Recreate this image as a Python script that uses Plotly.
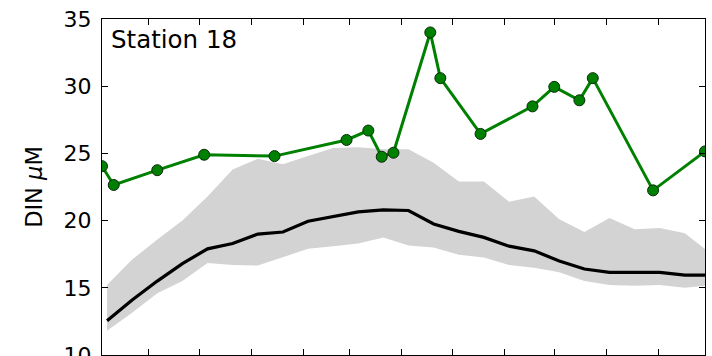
import plotly.graph_objects as go

# Climatology (15-day composites): mean and spread of DIN
clim_dates = [
    "2013-10-07", "2013-10-22", "2013-11-06", "2013-11-21", "2013-12-06",
    "2013-12-21", "2014-01-05", "2014-01-20", "2014-02-04", "2014-02-19",
    "2014-03-06", "2014-03-21", "2014-04-05", "2014-04-20", "2014-05-05",
    "2014-05-20", "2014-06-04", "2014-06-19", "2014-07-04", "2014-07-19",
    "2014-08-03", "2014-08-18", "2014-09-02", "2014-09-17", "2014-10-02",
]
clim_mean = [
    12.55, 14.1, 15.5, 16.8, 17.9, 18.3, 19.0, 19.15, 19.95, 20.3,
    20.65, 20.8, 20.75, 19.75, 19.2, 18.75, 18.1, 17.75, 17.0, 16.4,
    16.15, 16.15, 16.15, 15.95, 15.95,
]
clim_upper = [
    15.2, 17.1, 18.6, 20.0, 21.8, 23.8, 24.6, 24.2, 24.8, 25.4,
    25.45, 25.3, 25.3, 24.3, 22.9, 22.9, 21.4, 21.8, 20.1, 19.15,
    20.2, 19.35, 19.45, 19.05, 17.6,
]
clim_lower = [
    11.8, 13.15, 14.6, 15.5, 16.85, 16.7, 16.65, 17.3, 17.9, 18.1,
    18.3, 18.75, 18.15, 18.0, 17.45, 17.25, 16.7, 16.5, 16.15, 15.5,
    15.2, 15.15, 15.2, 15.0, 15.2,
]

# Station 18 samples
obs_dates = [
    "2013-10-04", "2013-10-11", "2013-11-06", "2013-12-04", "2014-01-15",
    "2014-02-27", "2014-03-12", "2014-03-20", "2014-03-27", "2014-04-18",
    "2014-04-24", "2014-05-18", "2014-06-18", "2014-07-01", "2014-07-16",
    "2014-07-24", "2014-08-29", "2014-09-29",
]
obs_din = [
    24.05, 22.65, 23.75, 24.9, 24.8, 26.0, 26.7, 24.75, 25.05, 34.0,
    30.6, 26.45, 28.5, 29.95, 28.95, 30.6, 22.25, 25.15,
]

y_ticks = [10, 15, 20, 25, 30, 35]
station_label = "Station 18"
y_label = "DIN <i>μ</i>M"

FONT = "DejaVu Sans"

fig = go.Figure()

fig.add_trace(go.Scatter(
    x=clim_dates, y=clim_lower, mode="lines",
    line=dict(width=0, color="#d3d3d3"), showlegend=False, hoverinfo="skip",
))
fig.add_trace(go.Scatter(
    x=clim_dates, y=clim_upper, mode="lines", fill="tonexty",
    fillcolor="#d3d3d3", line=dict(width=0, color="#d3d3d3"),
    showlegend=False, hoverinfo="skip",
))
fig.add_trace(go.Scatter(
    x=clim_dates, y=clim_mean, mode="lines",
    line=dict(width=3.2, color="black"), showlegend=False,
))
fig.add_trace(go.Scatter(
    x=obs_dates, y=obs_din, mode="lines+markers",
    line=dict(width=3, color="green"),
    marker=dict(size=11, color="green", line=dict(width=1, color="#0a2a0a")),
    showlegend=False,
))

fig.add_annotation(
    text=station_label, xref="paper", yref="paper",
    x=0.012, y=0.94, xanchor="left", yanchor="middle", showarrow=False,
    font=dict(family=FONT, size=24.5, color="black"),
)

fig.update_xaxes(
    type="date", range=["2013-10-04", "2014-09-29"],
    tick0="2013-11-01", dtick="M1", ticks="inside", ticklen=6,
    tickcolor="black", showticklabels=False, showgrid=False, zeroline=False,
    showline=True, linecolor="black", linewidth=1.2, mirror="ticks",
)
fig.update_yaxes(
    range=[10, 35], tickvals=y_ticks, ticktext=[str(v) for v in y_ticks],
    ticks="inside", ticklen=6, tickcolor="black", showgrid=False,
    zeroline=False, showline=True, linecolor="black", linewidth=1.2,
    mirror="ticks", tickfont=dict(family=FONT, size=22, color="black"),
    ticklabelstandoff=5, ticklabeloverflow="allow",
    title=dict(text=y_label, font=dict(family=FONT, size=22.5, color="black"),
               standoff=14),
)

fig.update_layout(
    width=712, height=356,
    margin=dict(l=102, r=7, t=19, b=1, autoexpand=False),
    paper_bgcolor="white", plot_bgcolor="white",
    font=dict(family=FONT, color="black"),
)

fig.write_html("out.html")
